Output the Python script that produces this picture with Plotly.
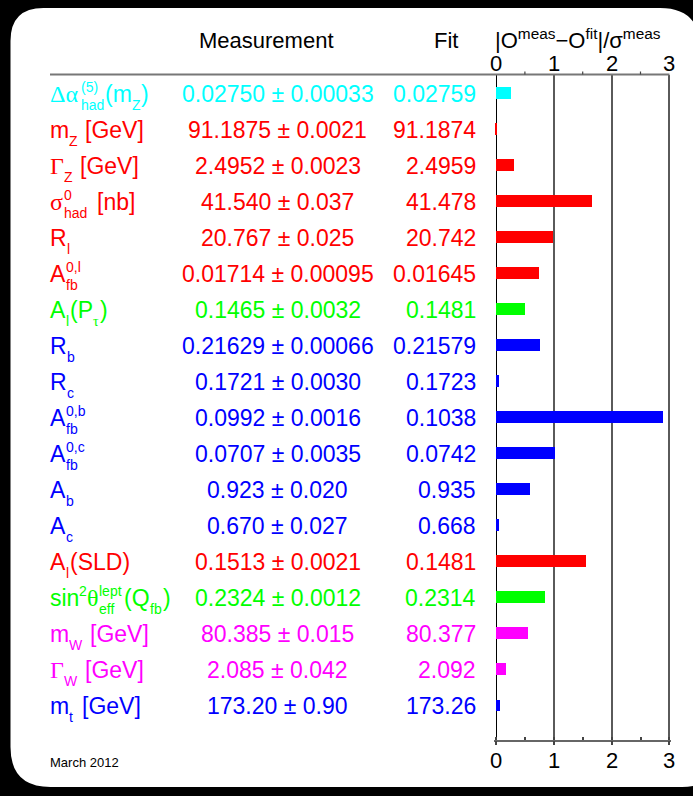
import plotly.graph_objects as go

# ---------------- data ----------------
names = ["Δα_had^(5)(m_Z)", "m_Z [GeV]", "Γ_Z [GeV]", "σ_had^0 [nb]", "R_l", "A_fb^0,l",
         "A_l(P_τ)", "R_b", "R_c", "A_fb^0,b", "A_fb^0,c", "A_b", "A_c", "A_l(SLD)",
         "sin²θ_eff^lept(Q_fb)", "m_W [GeV]", "Γ_W [GeV]", "m_t [GeV]"]
meas_val = ["0.02750", "91.1875", "2.4952", "41.540", "20.767", "0.01714", "0.1465", "0.21629",
            "0.1721", "0.0992", "0.0707", "0.923", "0.670", "0.1513", "0.2324", "80.385", "2.085", "173.20"]
meas_err = ["0.00033", "0.0021", "0.0023", "0.037", "0.025", "0.00095", "0.0032", "0.00066",
            "0.0030", "0.0016", "0.0035", "0.020", "0.027", "0.0021", "0.0012", "0.015", "0.042", "0.90"]
fit_val = ["0.02759", "91.1874", "2.4959", "41.478", "20.742", "0.01645", "0.1481", "0.21579",
           "0.1723", "0.1038", "0.0742", "0.935", "0.668", "0.1481", "0.2314", "80.377", "2.092", "173.26"]
pulls = [0.27, 0.03, 0.31, 1.67, 0.99, 0.74, 0.50, 0.76, 0.05, 2.89, 1.02, 0.59, 0.06, 1.56,
         0.85, 0.55, 0.17, 0.07]
axis_ticks = [0, 1, 2, 3]
minor_ticks = [0.5, 1.5, 2.5]
header_meas = "Measurement"
header_fit = "Fit"
header_pull = "|O<sup>meas</sup>−O<sup>fit</sup>|/σ<sup>meas</sup>"
footnote = "March 2012"

# ---------------- styling ----------------
CY, RD, GR, BL, MG = "#00FFFF", "#FF0000", "#00FF00", "#0000FF", "#FF00FF"
row_colors = [CY, RD, RD, RD, RD, RD, GR, BL, BL, BL, BL, BL, BL, RD, GR, MG, MG, BL]

W, H = 693, 796
SANS = "Liberation Sans, Arial, Helvetica, sans-serif"
SERIF = "Liberation Serif, Times New Roman, serif"
SIZE_MAIN, SIZE_SCRIPT, SIZE_GREEK = 23, 14, 24
SHIFT = {"n": -1, "sup": 6, "sub": -12.6}

# rendering of the row labels: (text piece, left px, role, greek?)
LABEL_PARTS = [
    [("Δα", 50, "n", 1), ("(5)", 81, "sup", 0), ("had", 81, "sub", 0), ("(m", 105, "n", 0), ("Z", 132, "sub", 0), (")", 141, "n", 0)],
    [("m", 50, "n", 0), ("Z", 69, "sub", 0), ("[GeV]", 85, "n", 0)],
    [("Γ", 50, "n", 1), ("Z", 64, "sub", 0), ("[GeV]", 80, "n", 0)],
    [("σ", 50, "n", 1), ("0", 64, "sup", 0), ("had", 64, "sub", 0), ("[nb]", 97, "n", 0)],
    [("R", 50, "n", 0), ("l", 67, "sub", 0)],
    [("A", 50, "n", 0), ("0,l", 66, "sup", 0), ("fb", 66, "sub", 0)],
    [("A", 50, "n", 0), ("l", 66, "sub", 0), ("(P", 70, "n", 0), ("τ", 93, "sub", 1), (")", 100, "n", 0)],
    [("R", 50, "n", 0), ("b", 67, "sub", 0)],
    [("R", 50, "n", 0), ("c", 67, "sub", 0)],
    [("A", 50, "n", 0), ("0,b", 66, "sup", 0), ("fb", 66, "sub", 0)],
    [("A", 50, "n", 0), ("0,c", 66, "sup", 0), ("fb", 66, "sub", 0)],
    [("A", 50, "n", 0), ("b", 66, "sub", 0)],
    [("A", 50, "n", 0), ("c", 66, "sub", 0)],
    [("A", 50, "n", 0), ("l", 66, "sub", 0), ("(SLD)", 70, "n", 0)],
    [("sin", 50, "n", 0), ("2", 79, "sup", 0), ("θ", 87, "n", 1), ("lept", 99, "sup", 0), ("eff", 99, "sub", 0),
     ("(Q", 124, "n", 0), ("fb", 150, "sub", 0), (")", 163, "n", 0)],
    [("m", 50, "n", 0), ("W", 69, "sub", 0), ("[GeV]", 90, "n", 0)],
    [("Γ", 50, "n", 1), ("W", 64, "sub", 0), ("[GeV]", 85, "n", 0)],
    [("m", 50, "n", 0), ("t", 69, "sub", 0), ("[GeV]", 82, "n", 0)],
]


def px(x):
    return x / W


def py(y):
    return 1 - y / H


fig = go.Figure()
fig.add_trace(go.Bar(
    x=pulls, y=names, orientation="h", width=0.31,
    marker=dict(color=row_colors, line=dict(width=0)),
    hoverinfo="skip", showlegend=False,
))

anns = []
for i, parts in enumerate(LABEL_PARTS):
    for text, xp, role, greek in parts:
        size = SIZE_MAIN if role == "n" else SIZE_SCRIPT
        if greek and role == "n":
            size = SIZE_GREEK
        anns.append(dict(
            text=text, x=px(xp), xref="paper", xanchor="left",
            y=names[i], yref="y", yanchor="middle", yshift=SHIFT[role],
            showarrow=False, borderpad=0, borderwidth=0,
            font=dict(family=SERIF if greek else SANS, size=size, color=row_colors[i]),
        ))
    anns.append(dict(
        text=f"{meas_val[i]} ± {meas_err[i]}", x=px(277.5), xref="paper", xanchor="center",
        y=names[i], yref="y", yanchor="middle", yshift=-1, showarrow=False, borderpad=0, borderwidth=0,
        font=dict(family=SANS, size=SIZE_MAIN, color=row_colors[i]),
    ))
    anns.append(dict(
        text=fit_val[i], x=px(476), xref="paper", xanchor="right",
        y=names[i], yref="y", yanchor="middle", yshift=-1, showarrow=False, borderpad=0, borderwidth=0,
        font=dict(family=SANS, size=SIZE_MAIN, color=row_colors[i]),
    ))

# tick labels of the pull scale (top and bottom), positioned by the x axis scale
for t in axis_ticks:
    for ypix in (63, 760.5):
        anns.append(dict(
            text=str(t), x=t, xref="x", xanchor="center", y=py(ypix), yref="paper",
            yanchor="middle", showarrow=False, borderpad=0, borderwidth=0,
            font=dict(family=SANS, size=22, color="black"),
        ))

anns += [
    dict(text=header_meas, x=px(266), y=py(40), xref="paper", yref="paper", xanchor="center",
         yanchor="middle", showarrow=False, borderpad=0, borderwidth=0,
         font=dict(family=SANS, size=22, color="black")),
    dict(text=header_fit, x=px(457.5), y=py(40), xref="paper", yref="paper", xanchor="right",
         yanchor="middle", showarrow=False, borderpad=0, borderwidth=0,
         font=dict(family=SANS, size=22, color="black")),
    dict(text=header_pull, x=px(495), y=py(39), xref="paper", yref="paper", xanchor="left",
         yanchor="middle", showarrow=False, borderpad=0, borderwidth=0,
         font=dict(family=SANS, size=22, color="black")),
    dict(text=footnote, x=px(50), y=py(762), xref="paper", yref="paper", xanchor="left",
         yanchor="middle", showarrow=False, borderpad=0, borderwidth=0,
         font=dict(family=SANS, size=13, color="black")),
]

# rounded white panel
L, T, B = 10.5, 8, 787
RT, RB = 700, 722
rtl, rtr, rbl, rbr = 33, 40, 40, 40
path = (f"M {px(L + rtl)} {py(T)} L {px(RT - rtr)} {py(T)} "
        f"Q {px(RT)} {py(T)} {px(RT)} {py(T + rtr)} "
        f"L {px(RB)} {py(B - rbr)} Q {px(RB)} {py(B)} {px(RB - rbr)} {py(B)} "
        f"L {px(L + rbl)} {py(B)} Q {px(L)} {py(B)} {px(L)} {py(B - rbl)} "
        f"L {px(L)} {py(T + rtl)} Q {px(L)} {py(T)} {px(L + rtl)} {py(T)} Z")

shapes = [
    dict(type="path", path=path, xref="paper", yref="paper", fillcolor="white",
         line=dict(width=0), layer="below"),
    dict(type="line", xref="paper", yref="paper", x0=px(50), x1=px(669.5), y0=py(74.5), y1=py(74.5),
         line=dict(color="#777777", width=2), layer="above"),
]
# small minor ticks pointing up from the top scale line
for m in minor_ticks:
    shapes.append(dict(type="line", xref="x", yref="paper", x0=m, x1=m, y0=py(74.5), y1=py(71.5),
                       line=dict(color="#444444", width=1.2), layer="above"))

XR = [-0.03, 3.03]
fig.update_layout(
    width=W, height=H, margin=dict(l=0, r=0, t=0, b=0),
    paper_bgcolor="black", plot_bgcolor="rgba(0,0,0,0)",
    showlegend=False, bargap=0, annotations=anns, shapes=shapes,
    font=dict(family=SANS),
    xaxis=dict(
        domain=[px(494.27), px(671.13)], range=XR, tickmode="array", tickvals=axis_ticks,
        side="bottom", anchor="y", showgrid=True, gridcolor="#5a5a5a", gridwidth=1.5,
        zeroline=True, zerolinecolor="black", zerolinewidth=1.3,
        showline=True, linecolor="#666666", linewidth=1.5,
        ticks="outside", ticklen=4, tickwidth=1.5, tickcolor="#444444", showticklabels=False,
        minor=dict(dtick=0.5, tick0=0, ticks="inside", ticklen=3, tickcolor="#444444", showgrid=False),
        fixedrange=True,
    ),
    yaxis=dict(
        domain=[py(739.5), py(74.5)], range=[17.97, -0.5], type="category",
        showticklabels=False, showgrid=False, zeroline=False, showline=False, ticks="",
        fixedrange=True,
    ),
)

fig.write_html(
    "out.html",
    config={"displayModeBar": False},
    post_script="document.body.style.margin='0';document.body.style.overflow='hidden';"
                "document.documentElement.style.background='black';",
)
